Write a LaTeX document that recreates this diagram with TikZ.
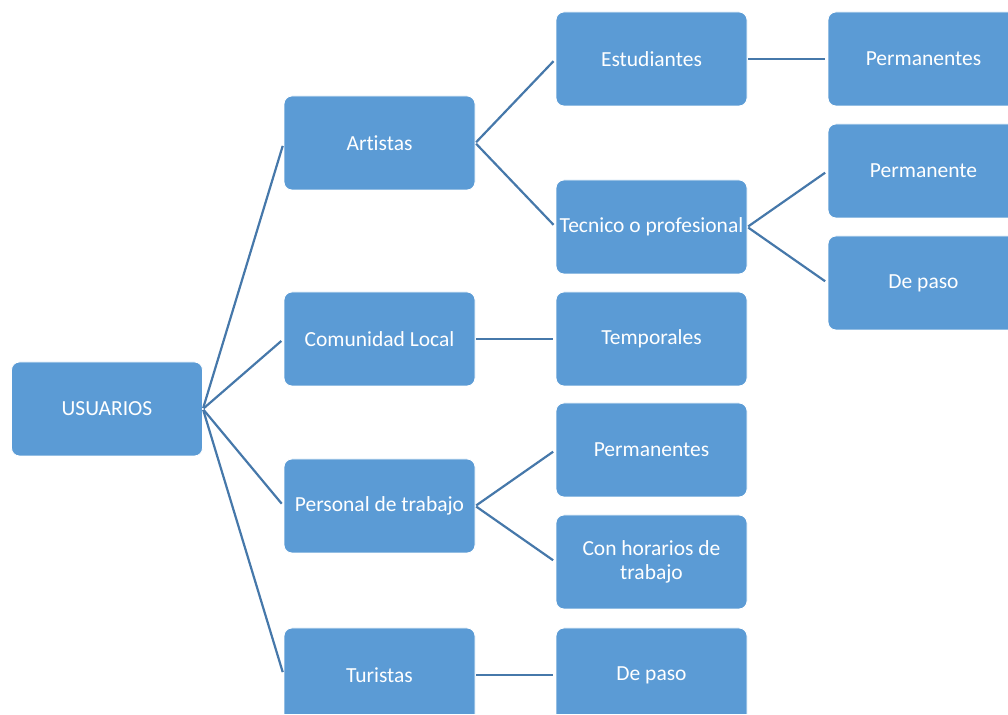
\documentclass[tikz,border=0pt]{standalone}
\usepackage{fontspec}
\setmainfont{Carlito}[Ligatures={NoCommon}]
\usepackage{xcolor}
\usetikzlibrary{positioning}
\definecolor{boxblue}{RGB}{91,155,213}
\definecolor{lineblue}{RGB}{70,120,170}

\tikzset{
  userbox/.style={rectangle, rounded corners=8pt, fill=boxblue, draw=white, line width=0.8pt,
    minimum width=191pt, minimum height=94pt, inner sep=2pt, text=white, align=center,
    font=\fontsize{21.5}{24}\selectfont},
  link/.style={lineblue, line width=2.2pt, shorten <=1pt, shorten >=3pt}
}

\begin{document}
\begin{tikzpicture}[x=1pt, y=1pt]
        % Canvas
        \useasboundingbox (0,0) rectangle (1008,714);
        \clip (0,0) rectangle (1008,714);

        % Root
        \node[userbox] (usuarios) at (107,305) {USUARIOS};

        % Second level
        \node[userbox] (artistas) at (379.5,571) {Artistas};
        \node[userbox] (comunidad) at (379.5,375) {Comunidad Local};
        \node[userbox] (personal) at (379.5,208) {Personal de trabajo};
        \node[userbox] (turistas) at (379.5,39) {Turistas};

        % Third level
        \node[userbox] (estudiantes) at (651.5,655) {Estudiantes};
        \node[userbox] (tecnico) at (651.5,487) {Tecnico o profesional};
        \node[userbox] (temporales) at (651.5,375) {Temporales};
        \node[userbox] (permtrabajo) at (651.5,264) {Permanentes};
        \node[userbox] (horarios) at (651.5,152) {Con horarios de\\trabajo};
        \node[userbox] (depasotur) at (651.5,39) {De paso};

        % Fourth level
        \node[userbox] (permest) at (923.5,655) {Permanentes};
        \node[userbox] (permtec) at (923.5,543) {Permanente};
        \node[userbox] (depasotec) at (923.5,431) {De paso};

        % Connectors
        \foreach \child in {artistas, comunidad, personal, turistas}
            \draw[link] (usuarios.east) -- (\child.west);
        \draw[link] (artistas.east) -- (estudiantes.west);
        \draw[link] (artistas.east) -- (tecnico.west);
        \draw[link] (comunidad.east) -- (temporales.west);
        \draw[link] (personal.east) -- (permtrabajo.west);
        \draw[link] (personal.east) -- (horarios.west);
        \draw[link] (turistas.east) -- (depasotur.west);
        \draw[link] (estudiantes.east) -- (permest.west);
        \draw[link] (tecnico.east) -- (permtec.west);
        \draw[link] (tecnico.east) -- (depasotec.west);
\end{tikzpicture}
\end{document}
